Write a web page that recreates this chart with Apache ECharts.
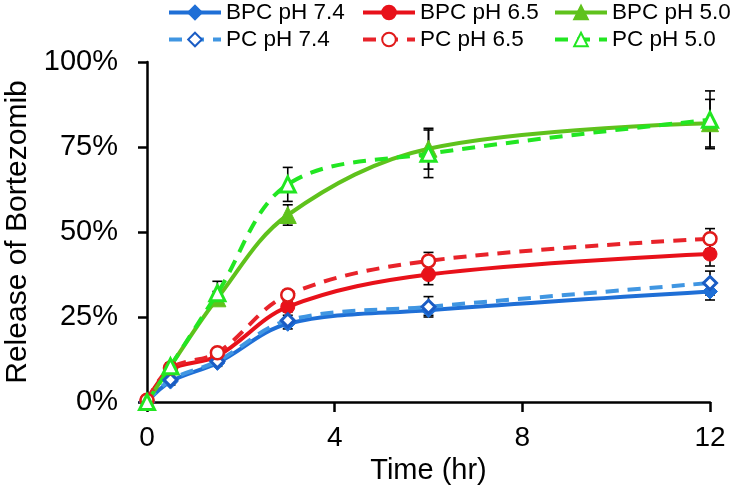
<!DOCTYPE html>
<html>
<head>
<meta charset="utf-8">
<script src="https://cdn.jsdelivr.net/npm/echarts@6/dist/echarts.min.js"></script>
<style>
html,body{margin:0;padding:0;background:#fff;}
#chart{width:735px;height:485px;}
</style>
</head>
<body>
<div id="chart"></div>
<script>
// ---- data ----
var times = [0, 0.5, 1.5, 3, 6, 12];
var seriesNames = ['BPC pH 7.4', 'BPC pH 6.5', 'BPC pH 5.0', 'PC pH 7.4', 'PC pH 6.5', 'PC pH 5.0'];
var bpc74 = [0, 6, 11.5, 23, 27, 32.5];
var pc74  = [0, 6.5, 12, 24, 28, 35];
var bpc65 = [0.5, 9.5, 13.5, 28, 37.5, 43.5];
var pc65  = [0.5, 10, 14.5, 31.5, 41.5, 48];
var bpc50 = [0, 10.5, 30.5, 55, 74.5, 82];
var pc50  = [0, 10.5, 32, 64, 73, 83];
var errBpc74 = [0, 1, 1, 1.5, 1.5, 2.5];
var errPc74  = [0, 1, 1, 1.5, 3, 3.5];
var errBpc65 = [0, 1, 1, 1.5, 3, 3.5];
var errPc65  = [0, 1, 1, 1.5, 2.5, 3];
var errBpc50 = [0, 1, 2, 3, 6, 7];
var errPc50  = [0, 1, 3.5, 5, 7, 8.5];
var yTicks = [0, 25, 50, 75, 100];
var xTicks = [0, 4, 8, 12];

var FONT = '"Liberation Sans", Arial, Helvetica, sans-serif';

function pairs(vals) { return times.map(function (t, i) { return [t, vals[i]]; }); }
function errData(vals, errs) { return times.map(function (t, i) { return [t, vals[i], errs[i]]; }); }

var styles = [
  {color: '#1F6FD6', line: '#1F6FD6', symbol: 'diamond', size: 15, fill: '#1F6FD6', dash: 'solid', bw: 1},
  {color: '#E8111A', line: '#E8111A', symbol: 'circle', size: 14, fill: '#E8111A', dash: 'solid', bw: 1},
  {color: '#5FC21C', line: '#5FC21C', symbol: 'triangle', size: 17, fill: '#5FC21C', dash: 'solid', bw: 1},
  {color: '#1A5CC4', line: '#4096E2', symbol: 'diamond', size: 13, fill: '#ffffff', dash: [13, 9], bw: 3},
  {color: '#E01A1A', line: '#E8232A', symbol: 'circle', size: 13, fill: '#ffffff', dash: [13, 9], bw: 2.5},
  {color: '#22E622', line: '#22E622', symbol: 'triangle', size: 15, fill: '#ffffff', dash: [13, 9], bw: 3}
];
var values = [bpc74, bpc65, bpc50, pc74, pc65, pc50];
var errs = [errBpc74, errBpc65, errBpc50, errPc74, errPc65, errPc50];

var series = [];
// error bars
values.forEach(function (v, k) {
  series.push({
    type: 'custom',
    name: 'err' + k,
    z: 1,
    silent: true,
    data: errData(v, errs[k]),
    renderItem: function (params, api) {
      var x = api.value(0), y = api.value(1), e = api.value(2);
      if (!e) return null;
      var top = api.coord([x, y + e]);
      var bot = api.coord([x, y - e]);
      var hw = 5;
      var st = {stroke: '#000', lineWidth: 1.6};
      return {
        type: 'group',
        children: [
          {type: 'line', shape: {x1: top[0], y1: top[1], x2: bot[0], y2: bot[1]}, style: st},
          {type: 'line', shape: {x1: top[0] - hw, y1: top[1], x2: top[0] + hw, y2: top[1]}, style: st},
          {type: 'line', shape: {x1: bot[0] - hw, y1: bot[1], x2: bot[0] + hw, y2: bot[1]}, style: st}
        ]
      };
    }
  });
});
values.forEach(function (v, k) {
  var s = styles[k];
  series.push({
    type: 'line',
    name: seriesNames[k],
    data: pairs(v),
    smooth: 0.35,
    z: 3 + (k >= 3 ? 1 : 0),
    symbol: s.symbol,
    symbolSize: s.size,
    showAllSymbol: true,
    lineStyle: {color: s.line, width: 4, type: s.dash},
    itemStyle: {color: s.fill, borderColor: s.color, borderWidth: s.bw, opacity: 1},
    emphasis: {disabled: true},
    animation: false
  });
});

function legendCol(names, left) {
  return {
    orient: 'vertical',
    left: left,
    top: 1,
    padding: 0,
    itemWidth: 52,
    itemHeight: 17,
    itemGap: 4,
    data: names,
    lineStyle: {width: 4},
    textStyle: {fontFamily: FONT, fontSize: 22.5, color: '#000', padding: [0, 0, 0, 0]},
    selectedMode: false
  };
}

var chart = echarts.init(document.getElementById('chart'), null, {renderer: 'canvas'});
chart.setOption({
  animation: false,
  backgroundColor: '#fff',
  textStyle: {fontFamily: FONT},
  legend: [
    legendCol([seriesNames[0], seriesNames[3]], 167),
    legendCol([seriesNames[1], seriesNames[4]], 361),
    legendCol([seriesNames[2], seriesNames[5]], 553)
  ],
  grid: {left: 147, right: 25, top: 62, bottom: 83, containLabel: false, outerBoundsMode: 'none'},
  xAxis: {
    type: 'value',
    min: xTicks[0],
    max: xTicks[xTicks.length - 1],
    interval: xTicks[1] - xTicks[0],
    name: 'Time (hr)',
    nameLocation: 'middle',
    nameGap: 45,
    nameTextStyle: {fontFamily: FONT, fontSize: 29, color: '#000'},
    axisLine: {lineStyle: {color: '#000', width: 2.5}},
    axisTick: {show: true, inside: false, length: 10, lineStyle: {color: '#000', width: 2.5}},
    axisLabel: {fontFamily: FONT, fontSize: 28, color: '#000', margin: 22},
    splitLine: {show: false}
  },
  yAxis: {
    type: 'value',
    min: yTicks[0],
    max: yTicks[yTicks.length - 1],
    interval: yTicks[1] - yTicks[0],
    name: 'Release of Bortezomib',
    nameLocation: 'middle',
    nameRotate: 90,
    nameGap: 112,
    nameTextStyle: {fontFamily: FONT, fontSize: 30, color: '#000'},
    axisLine: {show: true, lineStyle: {color: '#000', width: 2.5}},
    axisTick: {show: true, inside: false, length: 9, lineStyle: {color: '#000', width: 2.5}},
    axisLabel: {fontFamily: FONT, fontSize: 29, color: '#000', margin: 29, formatter: '{value}%'},
    splitLine: {show: false}
  },
  series: series
});
</script>
</body>
</html>
